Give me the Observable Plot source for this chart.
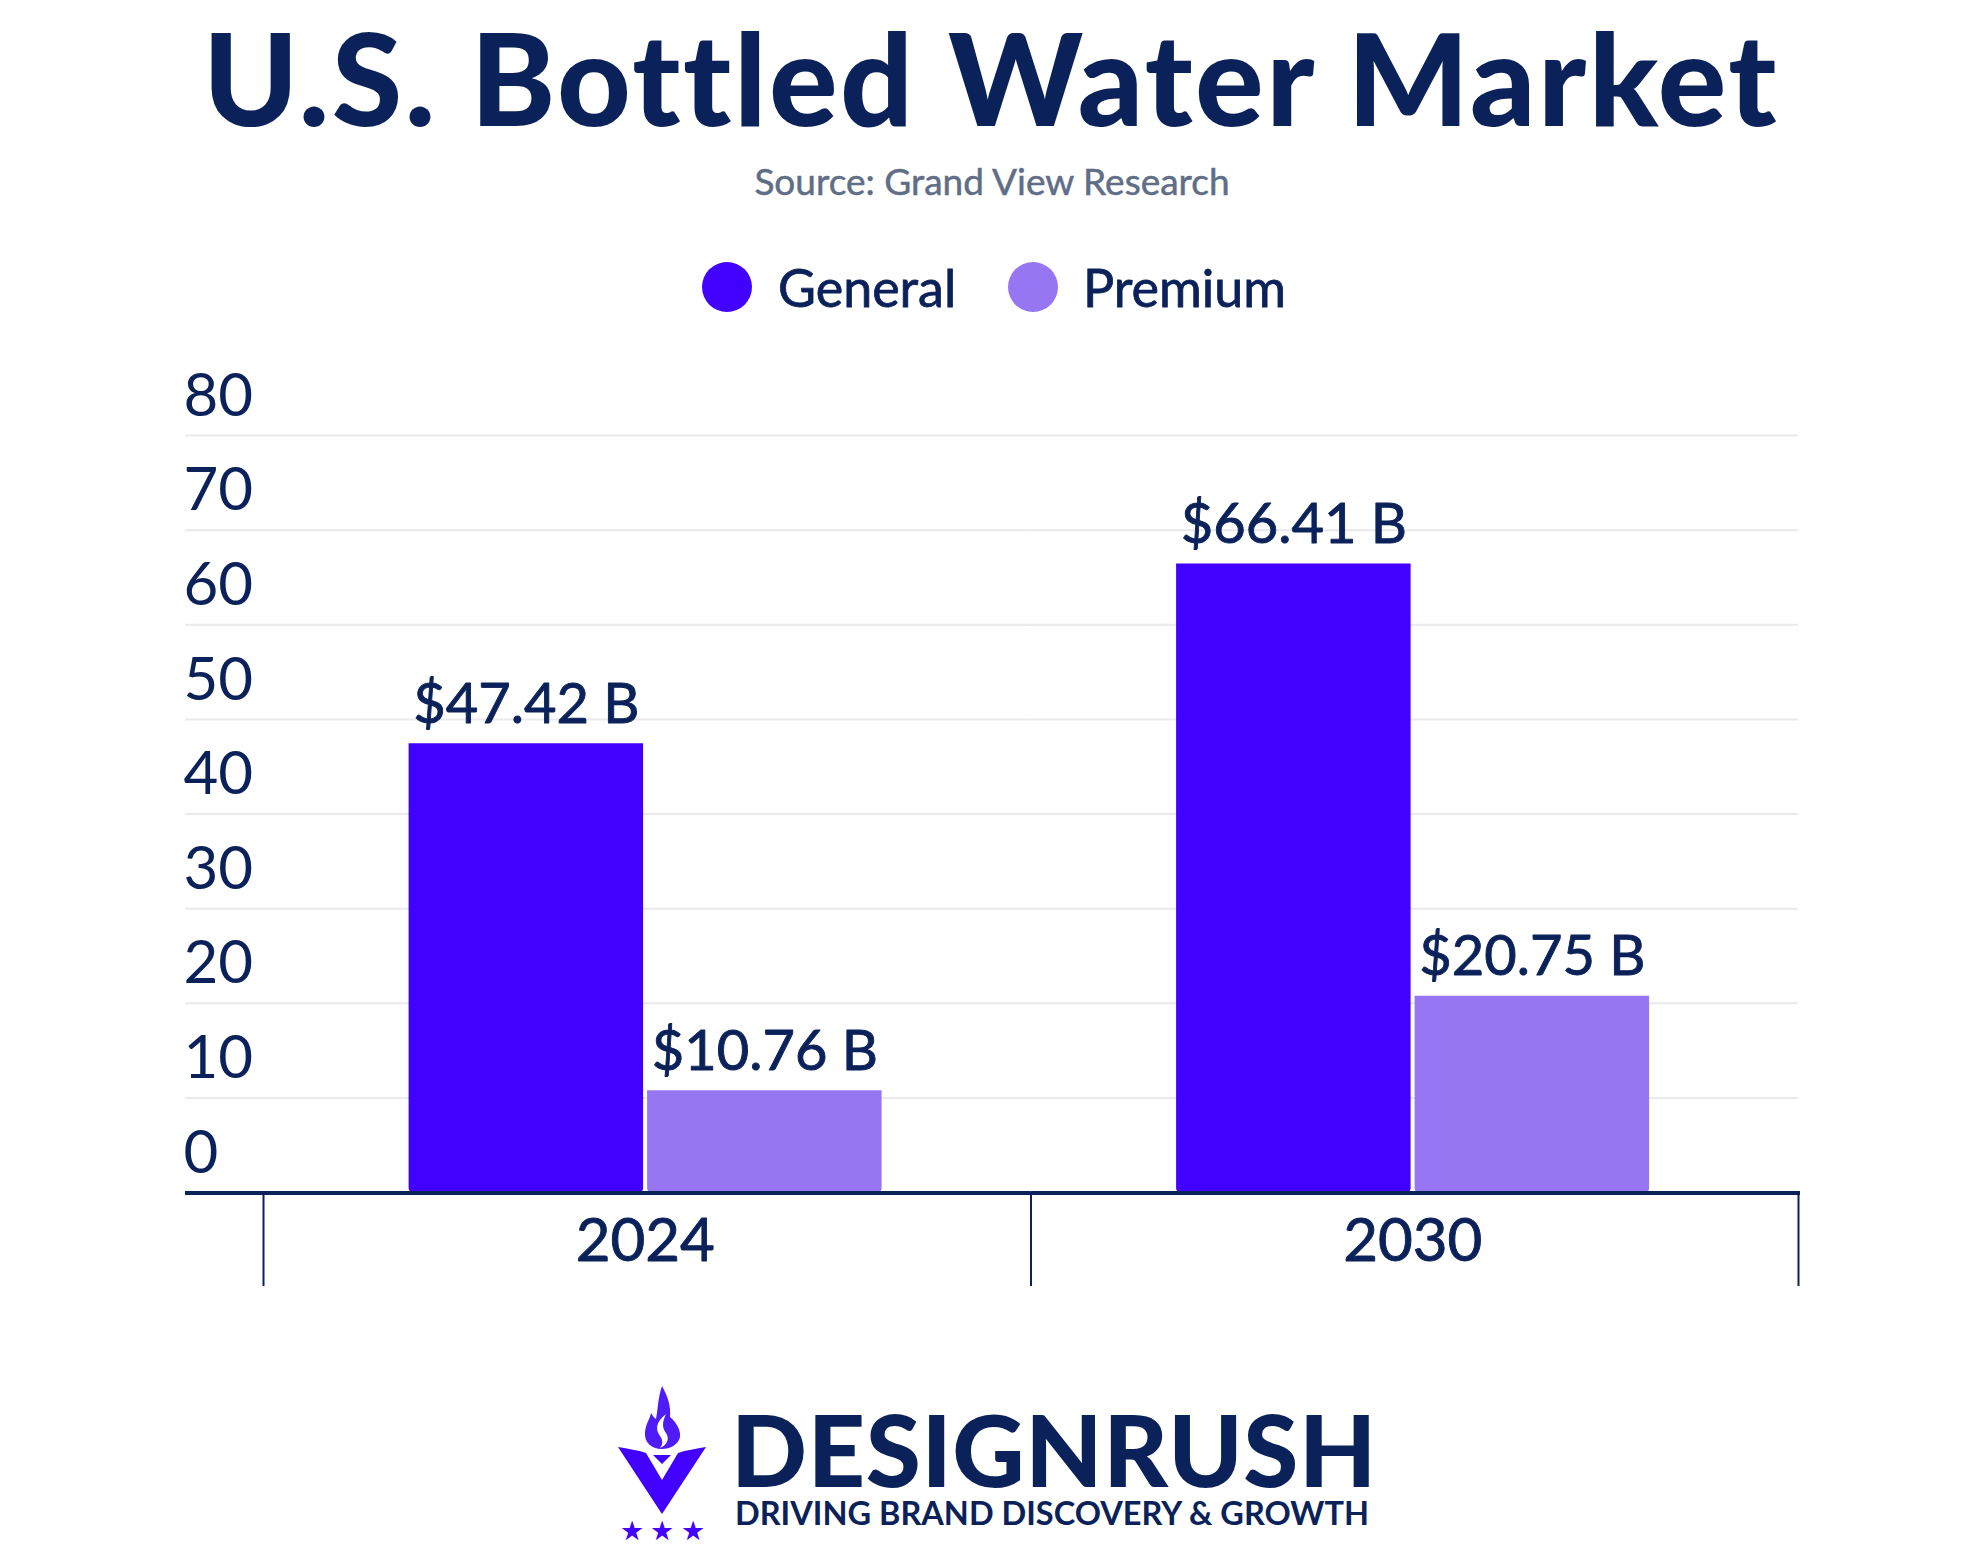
<!DOCTYPE html>
<html>
<head>
<meta charset="utf-8">
<script src="https://cdn.jsdelivr.net/npm/d3@7"></script>
<script src="https://cdn.jsdelivr.net/npm/@observablehq/plot@0.6"></script>
<style>
  html, body { margin: 0; padding: 0; background: #fff; }
  #page { position: relative; width: 1984px; height: 1552px; overflow: hidden; font-family: Lato, sans-serif; color: #0a2259; }
  #page > * { position: absolute; }
  .center { left: 0; width: 1984px; text-align: center; white-space: nowrap; }
  #title { top: 2px; width: 1982px; font-size: 128px; letter-spacing: 2.5px; font-weight: 900; line-height: 150px; color: #0a2259; }
  #source { top: 159px; font-size: 37px; line-height: 44px; color: #5f6e87; -webkit-text-stroke: 0.5px #5f6e87; }
  .dot { width: 50px; height: 50px; border-radius: 50%; top: 262px; }
  .leg { top: 258px; font-size: 52px; line-height: 58px; color: #0a2259; -webkit-text-stroke: 0.8px #0a2259; }
  #chart { left: 0; top: 340px; }
  #brand { left: 731px; top: 1408px; font-size: 100px; line-height: 80px; letter-spacing: 0.6px; font-weight: 900; color: #0a2259; white-space: nowrap; }
  #tag { left: 735px; top: 1498px; font-size: 32.5px; line-height: 30px; font-weight: 700; color: #0a2259; white-space: nowrap; }
  #mark { left: 610px; top: 1380px; }
</style>
</head>
<body>
<div id="page">
  <div id="title" class="center">U.S. Bottled Water Market</div>
  <div id="source" class="center">Source: Grand View Research</div>
  <div class="dot" id="d0" style="left:702px"></div>
  <div class="leg" id="l0" style="left:778px"></div>
  <div class="dot" id="d1" style="left:1008px"></div>
  <div class="leg" id="l1" style="left:1083px"></div>
  <div id="chart"></div>
  <svg id="mark" width="110" height="170" viewBox="610 1380 110 170">
    <path fill="#4f1bf6" d="M662 1386c6 11 9 20 8 31 7 6 11 14 10 20-2 8-10 12-18 12-11 0-18-7-17-17 1-9 5-13 6-19 2 3 3 5 5 6 2-10 2-22 6-33z"/>
    <path fill="#fff" d="M666 1414c-10 8-11 15-6 22 3 4 3 8 0 12 7-3 10-9 6-15-4-5-4-11 0-19z"/>
    <path fill="#4200ff" d="M618 1447c10 2 20 3 28 6l16 27 16-27c8-3 18-4 28-6l-44 67z"/>
    <path fill="#4200ff" d="M653 1455h18l-9 9z"/>
    <g fill="#4200ff" font-size="27" text-anchor="middle" font-family="DejaVu Sans"><text x="632" y="1540">★</text><text x="662" y="1540">★</text><text x="693" y="1540">★</text></g>
  </svg>
  <div id="brand">DESIGNRUSH</div>
  <div id="tag">DRIVING BRAND DISCOVERY &amp; GROWTH</div>
</div>
<script>
const years = ["2024", "2030"];
const seriesNames = ["General", "Premium"];
const generalValues = [47.42, 66.41];
const premiumValues = [10.76, 20.75];
const yTicks = [0, 10, 20, 30, 40, 50, 60, 70, 80];
const seriesColors = ["#4200ff", "#9676f2"];
const navy = "#0a2259";
const gridColor = "#e9e9ee";

const rows = years.flatMap((year, i) => [
  {year, series: seriesNames[0], value: generalValues[i]},
  {year, series: seriesNames[1], value: premiumValues[i]}
]);

seriesNames.forEach((name, i) => {
  document.getElementById("d" + i).style.background = seriesColors[i];
  document.getElementById("l" + i).textContent = name;
});

const band = 767.5, step = 238.5, barW = 234.5, outerTotal = band - 473, outerLeft = 145.6;
const groupCentre = outerLeft + barW / 2;
const textInk = {fill: navy, stroke: navy, strokeWidth: 0.9};

const chart = Plot.plot({
  width: 1984,
  height: 946,
  marginLeft: 263,
  marginRight: 186,
  marginTop: 0,
  marginBottom: 0,
  style: {fontFamily: "Lato, sans-serif", background: "transparent"},
  fx: {domain: years, padding: 0, round: false, axis: null},
  x: {domain: seriesNames, paddingInner: 4 / step, paddingOuter: (outerTotal / 2) / step, align: outerLeft / outerTotal, round: false, axis: null},
  y: {domain: [0, 80], range: [852, 95], axis: null},
  color: {domain: seriesNames, range: seriesColors},
  marks: [
    Plot.ruleY(yTicks.slice(1), {fx: () => years[0], y: d => d, stroke: gridColor, strokeWidth: 2, insetLeft: -78}),
    Plot.ruleY(yTicks.slice(1), {fx: () => years[1], y: d => d, stroke: gridColor, strokeWidth: 2}),
    Plot.barY(rows, {fx: "year", x: "series", y: "value", fill: "series", ry2: 4}),
    Plot.text(rows, {
      fx: "year", x: "series", y: "value",
      text: d => `$${d.value} B`,
      ...textInk, fontSize: 56, lineAnchor: "bottom", dy: -21
    }),
    Plot.axisY({
      ticks: yTicks, anchor: "left", tickSize: 0, tickPadding: 0,
      textAnchor: "start", dx: -80, dy: -39, fontSize: 60,
      color: navy, stroke: navy, strokeWidth: 0.9, label: null, tickFormat: d => String(d)
    }),
    Plot.ruleY([0], {fx: () => years[0], stroke: navy, strokeWidth: 4, insetLeft: -78, dy: 0.5}),
    Plot.ruleY([0], {fx: () => years[1], stroke: navy, strokeWidth: 4, insetRight: -2, dy: 0.5}),
    Plot.ruleX(["General"], {x: d => d, dx: -groupCentre, insetTop: 852, stroke: navy, strokeWidth: 2}),
    Plot.ruleX(["General"], {x: d => d, dx: band - groupCentre, insetTop: 852, stroke: navy, strokeWidth: 2}),
    Plot.text(years, {
      fx: d => d, text: d => d, frameAnchor: "bottom", lineAnchor: "middle", dy: -45, dx: -2,
      ...textInk, fontSize: 60
    })
  ]
});
document.getElementById("chart").appendChild(chart);
</script>
</body>
</html>
